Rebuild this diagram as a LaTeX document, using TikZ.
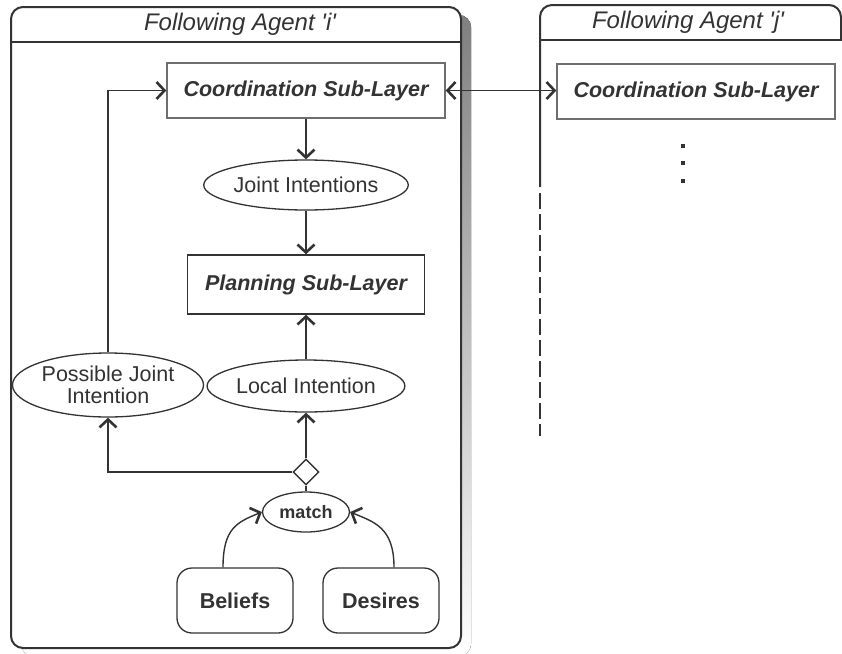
\documentclass[tikz,border=0pt]{standalone}
\usepackage{fontspec}
\setmainfont{Liberation Sans}
\usetikzlibrary{arrows.meta,shapes.geometric}
\definecolor{ink}{HTML}{333333}
\definecolor{shade}{HTML}{DCD8D5}
\definecolor{frame}{HTML}{6E6E6E}
\newcommand{\sq}{\textquotesingle}

\begin{document}
\begin{tikzpicture}[x=1pt,y=-1pt,
  >={Straight Barb[length=8pt,width=17pt,line width=2.6pt]},
  every node/.style={text=ink, inner sep=0pt},
  conn/.style={draw=ink, line width=1.4pt},
  titletext/.style={font=\fontsize{24}{26}\selectfont\itshape},
  layerbox/.style={rectangle, draw=frame, line width=1.4pt, fill=white,
    font=\fontsize{21.5}{24}\selectfont\bfseries\itshape},
  stateoval/.style={ellipse, draw=ink, line width=1.3pt, fill=white,
    font=\fontsize{21.5}{22.5}\selectfont, align=center},
  storebox/.style={rectangle, rounded corners=15pt, draw=ink, line width=1.3pt,
    fill=white, minimum width=116pt, minimum height=65pt,
    font=\fontsize{21.5}{24}\selectfont\bfseries},
  agentframe/.style={draw=ink, line width=2pt, rounded corners=12pt}]

\useasboundingbox (0,0) rectangle (842,653);

% ---- agent i: shadow, frame and header
\fill[shade, rounded corners=12pt] (21,15) rectangle (471,656);
\draw[agentframe, fill=white] (11,7) rectangle (461,648);
\draw[ink, line width=1.6pt] (11,42) -- (461,42);
\node[titletext] (titleI) at (240,24) {Following Agent \sq i\sq};

% ---- agent j: partly shown frame
\draw[agentframe] (540,187) -- (540,5) -- (841,5) -- (841,40);
\draw[ink, line width=1.6pt] (540,40) -- (842,40);
\draw[ink, line width=1.6pt, dash pattern=on 16pt off 5pt] (540,193) -- (540,436);
\node[titletext] (titleJ) at (688,22) {Following Agent \sq j\sq};

% ---- nodes of agent i
\node[layerbox, minimum width=278pt, minimum height=55pt] (coordI) at (306,90.5) {Coordination Sub-Layer};
\node[stateoval, minimum width=193pt, minimum height=50pt] (joint) at (306,185) {Joint Intentions};
\node[layerbox, draw=ink, minimum width=237pt, minimum height=59pt] (plan) at (306,284.5) {Planning Sub-Layer};
\node[stateoval, minimum width=192pt, minimum height=52pt] (local) at (306,386) {Local Intention};
\node[stateoval, minimum width=191pt, minimum height=64pt] (possible) at (108,385) {Possible Joint\\Intention};
\node[diamond, draw=ink, line width=1.4pt, fill=white, minimum width=26pt, minimum height=26pt] (choice) at (306,472) {};
\node[stateoval, minimum width=87pt, minimum height=40pt,
  font=\fontsize{18}{20}\selectfont\bfseries] (match) at (306,512) {match};
\node[storebox] (beliefs) at (235,600.5) {Beliefs};
\node[storebox] (desires) at (381,600.5) {Desires};

% ---- nodes of agent j
\node[layerbox, minimum width=278pt, minimum height=55pt] (coordJ) at (696,91.5) {Coordination Sub-Layer};
\fill[ink] (681,144) rectangle (685,148);
\fill[ink] (681,161) rectangle (685,165);
\fill[ink] (681,179) rectangle (685,183);

% ---- connectors
\draw[conn, <->] (coordI.east) -- (coordJ.west |- coordI.east);
\draw[conn, ->] (coordI.south) -- (joint.north);
\draw[conn, ->] (joint.south) -- (plan.north);
\draw[conn, ->] (local.north) -- (plan.south);
\draw[conn, ->] (possible.north) |- (coordI.west);
\draw[conn, ->] (choice.north) -- (local.south);
\draw[conn, ->] (choice.west) -| (possible.south);
\draw[conn] (choice.south) -- (match.north);
\coordinate (belOut) at ([xshift=-12pt]beliefs.north);
\coordinate (desOut) at ([xshift=13pt]desires.north);
% canvas shifts: positive yshift points up the page
\draw[conn, ->] (belOut) .. controls ([yshift=40pt]belOut) and ([xshift=-24pt,yshift=-10pt]match.west) .. (match.west);
\draw[conn, ->] (desOut) .. controls ([yshift=40pt]desOut) and ([xshift=24pt,yshift=-10pt]match.east) .. (match.east);
\end{tikzpicture}
\end{document}
